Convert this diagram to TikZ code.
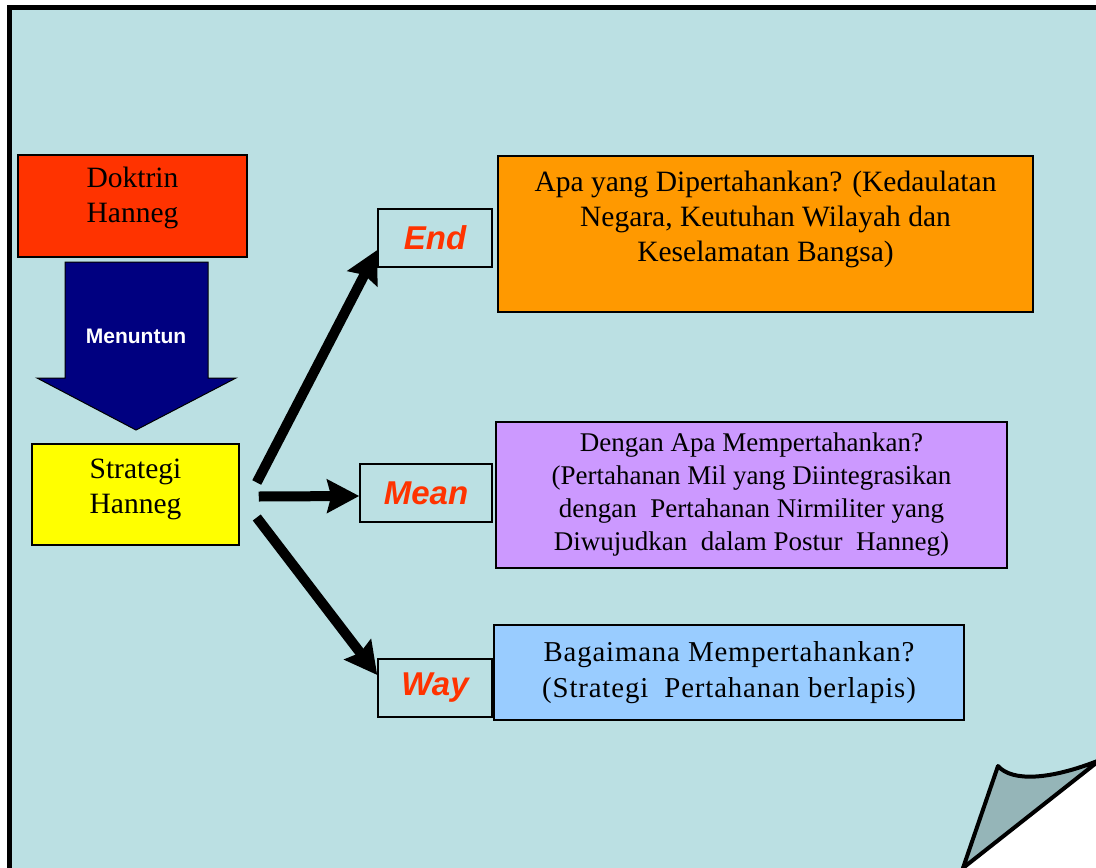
\documentclass[tikz,border=0pt]{standalone}
\usepackage{fontspec}
\setmainfont{Liberation Serif}
\newfontfamily\arialfont{Liberation Sans}
\usetikzlibrary{arrows.meta}

\definecolor{pagebg}{RGB}{187,224,227}
\definecolor{curlbg}{RGB}{149,181,184}
\definecolor{doktrinred}{RGB}{255,51,0}
\definecolor{navyarrow}{RGB}{0,0,128}
\definecolor{strategiyellow}{RGB}{255,255,0}
\definecolor{apaorange}{RGB}{255,153,0}
\definecolor{denganpurple}{RGB}{204,153,255}
\definecolor{bagaimanablue}{RGB}{153,204,255}
\definecolor{keyred}{RGB}{255,51,0}

\tikzset{
  box/.style={draw, line width=1.5pt, inner sep=0pt, align=center},
  serifbox/.style={box, font=\fontsize{29.5}{35}\selectfont},
  keybox/.style={box, minimum width=114pt, minimum height=58pt, text=keyred,
    font=\arialfont\bfseries\itshape\fontsize{33}{40}\selectfont},
  fatarrow/.style={line width=10pt, -{Stealth[length=32pt,width=33pt,inset=4pt]}}
}

\begin{document}
\begin{tikzpicture}[x=1pt,y=-1pt]
\useasboundingbox (0,0) rectangle (1096,868);
% page with folded corner
\fill[pagebg] (9,880) -- (9,7) -- (1110,7) -- (1110,752) -- (948,880) -- cycle;
\draw[line width=5pt] (9,880) -- (9,7) -- (1110,7);
\filldraw[fill=curlbg, line width=4pt, line join=round]
  (963,868) -- (998,766) .. controls (1012,782) and (1050,780) .. (1100,760) -- cycle;

% left column
\node[serifbox, fill=doktrinred, minimum width=229pt, minimum height=102pt, text depth=22pt]
  (doktrin) at (132.5,206) {Doktrin\\Hanneg};
\node[serifbox, fill=strategiyellow, minimum width=207pt, minimum height=101pt, text depth=16pt]
  (strategi) at (135.5,494.5) {Strategi\\Hanneg};
\filldraw[fill=navyarrow, line width=1pt]
  (65,262) -- (208,262) -- (208,378) -- (236,378) -- (136,430) -- (37,378) -- (65,378) -- cycle;
\node[text=white, font=\arialfont\bfseries\fontsize{21}{25}\selectfont]
  (menuntun) at (136,336) {Menuntun};

% end / mean / way
\node[keybox] (endb) at (435,238) {End};
\node[keybox, minimum width=132pt] (meanb) at (426,493) {Mean};
\node[keybox] (wayb) at (435,688) {Way};

\coordinate (fromend) at ([shift={(17,-12)}]strategi.east);
\coordinate (frommean) at ([shift={(19,2)}]strategi.east);
\coordinate (fromway) at ([shift={(17,23)}]strategi.east);
\draw[fatarrow] (fromend) -- ([shift={(0,12)}]endb.west);
\draw[fatarrow] (frommean) -- ([shift={(0,3)}]meanb.west);
\draw[fatarrow] (fromway) -- ([shift={(0,-13)}]wayb.west);

% right column
\node[serifbox, fill=apaorange, minimum width=535pt, minimum height=156pt, text depth=35pt]
  (apa) at (765.5,234) {Apa yang Dipertahankan? (Kedaulatan\\Negara, Keutuhan Wilayah dan\\Keselamatan Bangsa)};
\node[box, fill=denganpurple, minimum width=511pt, minimum height=146pt,
  font=\fontsize{27}{33}\selectfont]
  (dengan) at (751.5,495) {Dengan Apa Mempertahankan?\\(Pertahanan Mil yang Diintegrasikan\\dengan\ \ Pertahanan Nirmiliter yang\\Diwujudkan\ \ dalam Postur\ \ Hanneg)};
\node[box, fill=bagaimanablue, minimum width=470pt, minimum height=95pt,
  font=\fontsize{28.8}{36}\selectfont\addfontfeatures{LetterSpace=3}]
  (bagaimana) at (729,672.5) {Bagaimana Mempertahankan?\\(Strategi\ \ Pertahanan berlapis)};
\end{tikzpicture}
\end{document}
